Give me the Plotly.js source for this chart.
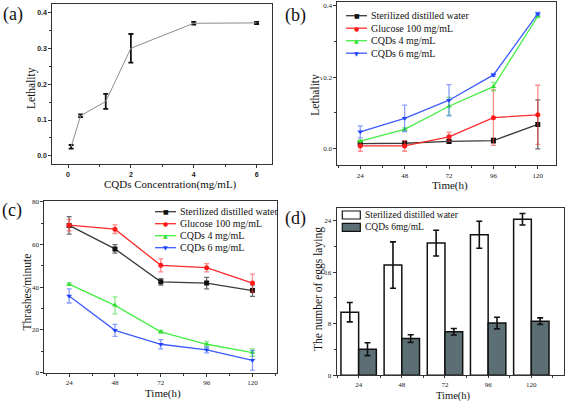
<!DOCTYPE html>
<html><head><meta charset="utf-8">
<script src="https://cdn.plot.ly/plotly-3.0.1.min.js"></script>
<style>html,body{margin:0;padding:0;background:#fff}#chart{width:567px;height:401px}</style>
</head><body><div id="chart"></div>
<script>
// ---------- data ----------
const concA = [0.1, 0.4, 1.2, 2, 4, 6];
const lethA = [0.025, 0.112, 0.152, 0.301, 0.371, 0.372];
const errA = [0.005, 0.004, 0.021, 0.04, 0.004, 0.003];

const timeH = [24, 48, 72, 96, 120];
const seriesNames = ['Sterilized distilled water', 'Glucose 100 mg/mL', 'CQDs 4 mg/mL', 'CQDs 6 mg/mL'];

const lethWater = [0.013, 0.014, 0.019, 0.0215, 0.067];
const errLethWater = [0.005, 0.005, 0.005, 0.007, 0.069];
const lethGlucose = [0.0065, 0.0065, 0.032, 0.086, 0.094];
const errLethGlucose = [0.015, 0.015, 0.013, 0.078, 0.083];
const lethCQD4 = [0.02, 0.053, 0.118, 0.173, 0.371];
const errLethCQD4 = [0.003, 0.004, 0.025, 0.012, 0.003];
const lethCQD6 = [0.046, 0.084, 0.135, 0.206, 0.378];
const errLethCQD6 = [0.017, 0.037, 0.044, 0.004, 0.004];

const thrWater = [68.9, 57.9, 42.5, 41.9, 38.4];
const errThrWater = [4.1, 2.0, 1.5, 2.7, 2.7];
const thrGlucose = [69.0, 67.1, 50.2, 49.1, 41.9];
const errThrGlucose = [2.7, 2.0, 3.0, 1.9, 4.2];
const thrCQD4 = [41.4, 31.5, 19.1, 13.3, 9.4];
const errThrCQD4 = [0.6, 4.0, 0.7, 1.3, 1.7];
const thrCQD6 = [35.9, 19.8, 13.3, 10.7, 5.8];
const errThrCQD6 = [3.3, 2.8, 2.2, 1.4, 4.6];

const eggNames = ['Sterilized distilled water', 'CQDs 6mg/mL'];
const eggWater = [9.78, 17.1, 20.5, 21.8, 24.2];
const errEggWater = [1.5, 3.6, 2.0, 2.1, 0.9];
const eggCQD6 = [4.05, 5.7, 6.75, 8.1, 8.4];
const errEggCQD6 = [1.0, 0.6, 0.5, 0.9, 0.5];

const axisTitles = {
  a: ['CQDs Concentration(mg/mL)', 'Lethality'],
  b: ['Time(h)', 'Lethality'],
  c: ['Time(h)', 'Thrashes/minute'],
  d: ['Time(h)', 'The number of eggs laying']
};

// ---------- styles ----------
const W = 567, H = 401;
const px = v => v / W, py = v => 1 - v / H;
const SERIF = '"Liberation Serif", "Times New Roman", Times, serif';
const SANS = '"Liberation Sans", Arial, sans-serif';
const styles = [
  {line: '#3a3a3a', mk: '#111', err: 'rgba(60,60,60,0.75)', sym: 'square', glyph: '\u25A0'},
  {line: '#ff2a2a', mk: '#ff1a1a', err: 'rgba(255,60,60,0.6)', sym: 'circle', glyph: '\u25CF'},
  {line: '#44ee44', mk: '#33dd33', err: 'rgba(60,220,60,0.6)', sym: 'triangle-up', glyph: '\u25B2'},
  {line: '#3d5cff', mk: '#2244ff', err: 'rgba(60,90,255,0.6)', sym: 'triangle-down', glyph: '\u25BC'}
];

function lineTrace(x, y, e, k, xa, ya, name) {
  const s = styles[k];
  return {x: x, y: y, name: name, xaxis: xa, yaxis: ya, type: 'scatter', mode: 'lines+markers',
    showlegend: false,
    line: {color: s.line, width: 1.3},
    marker: {symbol: s.sym, color: s.mk, size: 5},
    error_y: {type: 'data', array: e, visible: true, color: s.err, thickness: 1.3, width: 2.5}};
}

const traces = [
  {x: concA, y: lethA, type: 'scatter', mode: 'lines', xaxis: 'x', yaxis: 'y', showlegend: false,
   line: {color: '#8c8c8c', width: 1},
   error_y: {type: 'data', array: errA, visible: true, color: '#111', thickness: 1.8, width: 2.5}},
  lineTrace(timeH, lethWater, errLethWater, 0, 'x2', 'y2', seriesNames[0]),
  lineTrace(timeH, lethGlucose, errLethGlucose, 1, 'x2', 'y2', seriesNames[1]),
  lineTrace(timeH, lethCQD4, errLethCQD4, 2, 'x2', 'y2', seriesNames[2]),
  lineTrace(timeH, lethCQD6, errLethCQD6, 3, 'x2', 'y2', seriesNames[3]),
  lineTrace(timeH, thrWater, errThrWater, 0, 'x3', 'y3', seriesNames[0]),
  lineTrace(timeH, thrGlucose, errThrGlucose, 1, 'x3', 'y3', seriesNames[1]),
  lineTrace(timeH, thrCQD4, errThrCQD4, 2, 'x3', 'y3', seriesNames[2]),
  lineTrace(timeH, thrCQD6, errThrCQD6, 3, 'x3', 'y3', seriesNames[3]),
  {x: timeH, y: eggWater, name: eggNames[0], type: 'bar', xaxis: 'x4', yaxis: 'y4', showlegend: false,
   marker: {color: '#ffffff', line: {color: '#111', width: 1.5}},
   error_y: {type: 'data', array: errEggWater, visible: true, color: '#111', thickness: 1.6, width: 3}},
  {x: timeH, y: eggCQD6, name: eggNames[1], type: 'bar', xaxis: 'x4', yaxis: 'y4', showlegend: false,
   marker: {color: '#5b6f74', line: {color: '#111', width: 1.5}},
   error_y: {type: 'data', array: errEggCQD6, visible: true, color: '#111', thickness: 1.6, width: 3}}
];

function ax(domain, range, opts) {
  return Object.assign({
    domain: domain, range: range, showline: true, linecolor: '#333', linewidth: 1, mirror: true,
    ticks: 'outside', ticklen: 3, tickcolor: '#333', tickwidth: 1, showgrid: false, zeroline: false,
    tickfont: {family: SERIF, size: 7, color: '#222'},
  }, opts);
}
const minorT = extra => Object.assign({ticks: 'outside', ticklen: 2, tickcolor: '#333'}, extra);
const boldSans = {family: SANS, size: 7, weight: 'bold', color: '#222'};

const layout = {
  width: W, height: H, margin: {l: 0, r: 0, t: 0, b: 0},
  paper_bgcolor: '#fff', plot_bgcolor: '#fff', showlegend: false,
  barmode: 'group', bargap: 0.18, bargroupgap: 0,
  xaxis: ax([px(52.3), px(272.3)], [-0.5, 6.5], {anchor: 'y', tickvals: [0, 2, 4, 6],
    minor: minorT({tickvals: [1, 3, 5]}), tickfont: boldSans}),
  yaxis: ax([py(164.3), py(4)], [-0.024, 0.425], {anchor: 'x', tickvals: [0, 0.1, 0.2, 0.3, 0.4],
    ticktext: ['0.0', '0.1', '0.2', '0.3', '0.4'], minor: minorT({tickvals: [0.05, 0.15, 0.25, 0.35]}),
    tickfont: boldSans}),
  xaxis2: ax([px(337.3), px(556.3)], [11.6, 130], {anchor: 'y2', tickvals: timeH, minor: minorT({dtick: 12})}),
  yaxis2: ax([py(165.3), py(2)], [-0.048, 0.411], {anchor: 'x2', tickvals: [0, 0.2, 0.4],
    ticktext: ['0.0', '0.2', '0.4'], minor: minorT({tickvals: [0.1, 0.3]})}),
  xaxis3: ax([px(44.3), px(277.3)], [11, 133], {anchor: 'y3', tickvals: timeH, minor: minorT({dtick: 12})}),
  yaxis3: ax([py(372.7), py(201)], [0, 80.3], {anchor: 'x3', tickvals: [0, 20, 40, 60, 80],
    minor: minorT({tickvals: [10, 30, 50, 70]})}),
  xaxis4: ax([px(336.7), px(563.7)], [11.8, 138], {anchor: 'y4', tickvals: timeH, ticklen: 2,
    minor: minorT({dtick: 12})}),
  yaxis4: ax([py(375.3), py(208.3)], [0, 25.9], {anchor: 'x4', tickvals: [0, 8, 16, 24],
    minor: minorT({tickvals: [4, 12, 20]})}),
  annotations: [], shapes: []
};

function note(text, x, y, opts) {
  layout.annotations.push(Object.assign({text: text, xref: 'paper', yref: 'paper', x: px(x), y: py(y),
    xanchor: 'center', yanchor: 'middle', showarrow: false,
    font: {family: SERIF, size: 11.5, color: '#111'}}, opts || {}));
}
const xTitleFont = {font: {family: SERIF, size: 11, color: '#111'}};

// axis titles
note(axisTitles.a[0], 170.8, 184.5, xTitleFont);
note(axisTitles.a[1], 31, 88, {textangle: -90});
note(axisTitles.b[0], 449.7, 185, xTitleFont);
note(axisTitles.b[1], 314.7, 95, {textangle: -90});
note(axisTitles.c[0], 163.3, 393.5, xTitleFont);
note(axisTitles.c[1], 26.7, 291.7, {textangle: -90});
note(axisTitles.d[0], 453, 395.5, {font: {family: SERIF, size: 10.5, color: '#111'}});
note(axisTitles.d[1], 318, 289, {textangle: -90});

// panel labels
[['(a)', 1, 14], ['(b)', 283, 15], ['(c)', 0, 210], ['(d)', 283, 218]].forEach(p => {
  note(p[0], p[1], p[2], {xanchor: 'left', font: {family: SERIF, size: 18, color: '#111'}});
});

// manual legends for line panels
function lineLegend(x0, y0, dy) {
  seriesNames.forEach((n, i) => {
    const s = styles[i], yy = y0 + i * dy;
    layout.shapes.push({type: 'line', xref: 'paper', yref: 'paper', x0: px(x0), x1: px(x0 + 21),
      y0: py(yy), y1: py(yy), line: {color: s.line, width: 1.3}});
    note(s.glyph, x0 + 10.5, yy, {font: {family: 'DejaVu Sans', size: 6, color: s.mk}});
    note(n, x0 + 23, yy, {xanchor: 'left', font: {family: SERIF, size: 10, color: '#111'}});
  });
}
lineLegend(346, 15.7, 12.5);
lineLegend(155, 211.7, 12);

// manual legend for bars
const barFills = ['#ffffff', '#5b6f74'];
eggNames.forEach((n, i) => {
  const yy = 215 + i * 12.3;
  layout.shapes.push({type: 'rect', xref: 'paper', yref: 'paper', x0: px(342.3), x1: px(360.3),
    y0: py(yy - 4), y1: py(yy + 4), fillcolor: barFills[i], line: {color: '#111', width: 1.2}});
  note(n, 363, yy, {xanchor: 'left', font: {family: SERIF, size: 9.5, color: '#111'}});
});

Plotly.newPlot('chart', traces, layout, {displayModeBar: false, staticPlot: true});
</script></body></html>
